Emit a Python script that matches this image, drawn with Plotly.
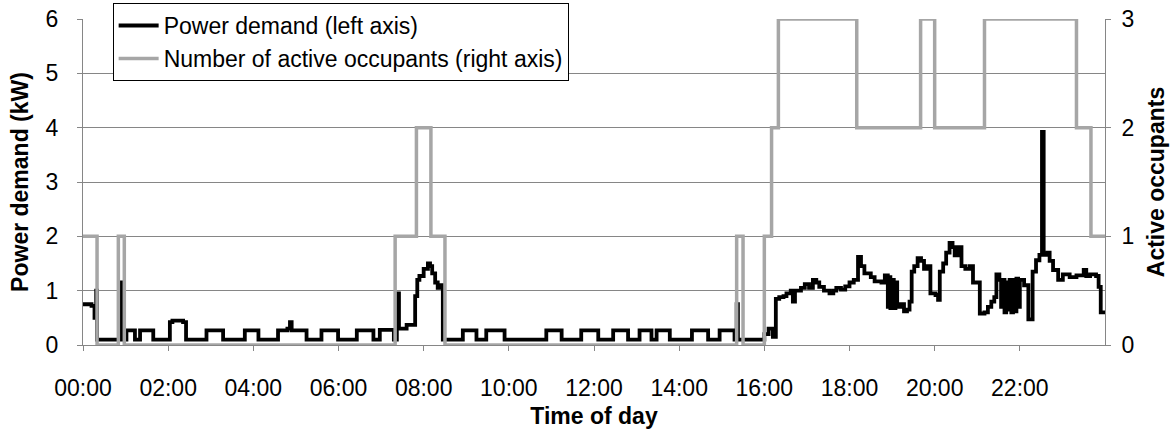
import plotly.graph_objects as go

# ---- data ----
tick_hours = [0, 2, 4, 6, 8, 10, 12, 14, 16, 18, 20, 22]
tick_labels = ["00:00", "02:00", "04:00", "06:00", "08:00", "10:00",
               "12:00", "14:00", "16:00", "18:00", "20:00", "22:00"]

# Number of active occupants (step changes, hour of day -> value)
occ_hours = [0.00, 0.33, 0.83, 0.97, 7.33, 7.83, 8.17, 8.50, 15.35, 15.50,
             16.00, 16.17, 16.33, 18.17, 19.67, 20.00, 21.17, 23.33, 23.67, 24.00]
occ_count = [1, 0, 1, 0, 1, 2, 1, 0, 1, 0,
             1, 2, 3, 2, 3, 2, 3, 2, 1, 1]

# Power demand (kW) step changes
power_hours = [
    0.00, 0.20, 0.27, 0.31, 0.33, 0.88, 0.92, 1.02, 1.22, 1.34, 1.65, 2.04, 2.10, 2.35, 2.42,
    2.90, 3.29, 3.80, 4.12, 4.58, 4.80, 4.86, 4.90, 5.25, 5.60, 5.99, 6.43, 6.82, 6.97, 7.30,
    7.37, 7.42, 7.60, 7.80, 7.85, 7.90, 8.00, 8.10, 8.15, 8.20, 8.27, 8.33, 8.40, 8.45,
    8.92, 9.24, 9.47, 9.90, 10.88, 11.24, 11.70, 12.10, 12.45, 12.80, 13.07, 13.35, 13.47,
    13.78, 14.30, 14.68, 14.95, 15.30, 15.35, 15.38,
    16.00, 16.10, 16.20, 16.27, 16.35, 16.45, 16.52, 16.62, 16.67, 16.72, 16.86, 16.95, 17.05,
    17.14, 17.22, 17.29, 17.40, 17.53, 17.62, 17.69, 17.80, 17.90, 18.00, 18.10, 18.20, 18.27,
    18.35, 18.50, 18.59, 18.75, 18.83, 18.90, 18.93, 18.96, 19.00, 19.04, 19.08, 19.12, 19.20,
    19.28, 19.35, 19.41, 19.46, 19.52, 19.60, 19.68, 19.75, 19.82, 19.90, 20.02, 20.08, 20.12,
    20.20, 20.27, 20.35, 20.42, 20.47, 20.55, 20.63, 20.72, 20.82, 20.90, 21.00, 21.06, 21.17,
    21.25, 21.33, 21.40, 21.45, 21.52, 21.56, 21.60, 21.64, 21.68, 21.72, 21.76, 21.80, 21.84,
    21.88, 21.92, 21.96, 22.00, 22.05, 22.10, 22.20, 22.30, 22.38, 22.46, 22.52, 22.56, 22.65,
    22.70, 22.78, 22.90, 23.01, 23.17, 23.33, 23.50, 23.56, 23.65, 23.79, 23.85, 23.90, 24.00]
power_kw = [
    0.75, 0.72, 0.50, 1.00, 0.10, 1.15, 0.10, 0.27, 0.10, 0.27, 0.10, 0.42, 0.45, 0.42, 0.10,
    0.27, 0.10, 0.27, 0.10, 0.27, 0.30, 0.42, 0.27, 0.10, 0.27, 0.10, 0.27, 0.10, 0.28, 0.10,
    0.95, 0.30, 0.37, 0.90, 1.20, 1.27, 1.40, 1.50, 1.45, 1.32, 1.15, 1.05, 1.10, 0.10,
    0.27, 0.10, 0.27, 0.10, 0.27, 0.10, 0.27, 0.10, 0.27, 0.10, 0.27, 0.10, 0.27,
    0.10, 0.27, 0.10, 0.27, 0.10, 0.75, 0.10,
    0.20, 0.30, 0.15, 0.85, 0.88, 0.90, 0.95, 1.00, 0.80, 1.00, 1.05, 1.12, 1.05,
    1.20, 1.15, 1.07, 1.00, 0.95, 1.00, 1.05, 1.02, 1.08, 1.15, 1.20, 1.62, 1.45,
    1.32, 1.25, 1.17, 1.15, 1.28, 0.70, 1.25, 0.68, 1.20, 0.68, 1.15, 0.70, 0.75,
    0.62, 0.65, 0.80, 1.35, 1.45, 1.60, 1.55, 1.40, 1.45, 0.95, 0.92, 0.83, 1.35,
    1.50, 1.70, 1.88, 1.80, 1.65, 1.80, 1.45, 1.40, 1.45, 1.15, 1.15, 0.58, 0.60,
    0.70, 0.80, 0.88, 1.30, 1.20, 0.70, 1.20, 0.60, 1.15, 0.65, 1.20, 0.60, 1.20,
    0.62, 1.22, 0.70, 1.20, 1.20, 1.10, 0.47, 1.35, 1.56, 1.66, 3.92, 1.66, 1.70,
    1.55, 1.38, 1.20, 1.30, 1.25, 1.28, 1.38, 1.27, 1.30, 1.27, 1.07, 0.60, 0.60]

GRID = "#868686"
FONT = "Liberation Sans"
FS = 23
TITLE_FONT = dict(family=FONT, size=FS, weight="bold", color="black")

fig = go.Figure()
fig.add_trace(go.Scatter(
    x=power_hours, y=power_kw, mode="lines", line_shape="hv",
    line=dict(color="black", width=3.8),
    name="Power demand (left axis)", legendgroup="a", yaxis="y"))
fig.add_trace(go.Scatter(
    x=occ_hours, y=occ_count, mode="lines", line_shape="hv",
    line=dict(color="#A6A6A6", width=3.5),
    name="Number of active occupants (right axis)", legendgroup="b", yaxis="y2"))

fig.update_layout(
    width=1176, height=432,
    margin=dict(l=83, r=71, t=19, b=87, autoexpand=False),
    paper_bgcolor="white", plot_bgcolor="white",
    font=dict(family=FONT, size=FS, color="black"),
    showlegend=True,
    legend=dict(x=0.029, y=1.049, xanchor="left", yanchor="top",
                bgcolor="white", bordercolor="black", borderwidth=1,
                font=dict(family=FONT, size=FS), tracegroupgap=0,
                traceorder="grouped", itemwidth=40),
    xaxis=dict(range=[0, 24], tickvals=tick_hours, ticktext=tick_labels,
               showgrid=False, zeroline=False, showline=True, linecolor=GRID,
               linewidth=1, ticks="outside", ticklen=5, tickcolor=GRID,
               ticklabelstandoff=17, tickfont=dict(family=FONT, size=FS),
               title=dict(text="Time of day", font=TITLE_FONT, standoff=8)),
    yaxis=dict(range=[0, 6], dtick=1, showgrid=True, gridcolor=GRID, gridwidth=1,
               zeroline=False, showline=True, linecolor=GRID, linewidth=1,
               ticks="outside", ticklen=5, tickcolor=GRID, ticklabelstandoff=14,
               tickfont=dict(family=FONT, size=FS),
               title=dict(text="Power demand (kW)", font=TITLE_FONT, standoff=10)),
    yaxis2=dict(range=[0, 3], dtick=1, overlaying="y", side="right",
                showgrid=False, zeroline=False, showline=True, linecolor=GRID,
                linewidth=1, ticks="outside", ticklen=5, tickcolor=GRID,
                ticklabelstandoff=6, tickfont=dict(family=FONT, size=FS),
                title=dict(text="Active occupants", font=TITLE_FONT, standoff=14)),
)

fig.write_html("out.html")
